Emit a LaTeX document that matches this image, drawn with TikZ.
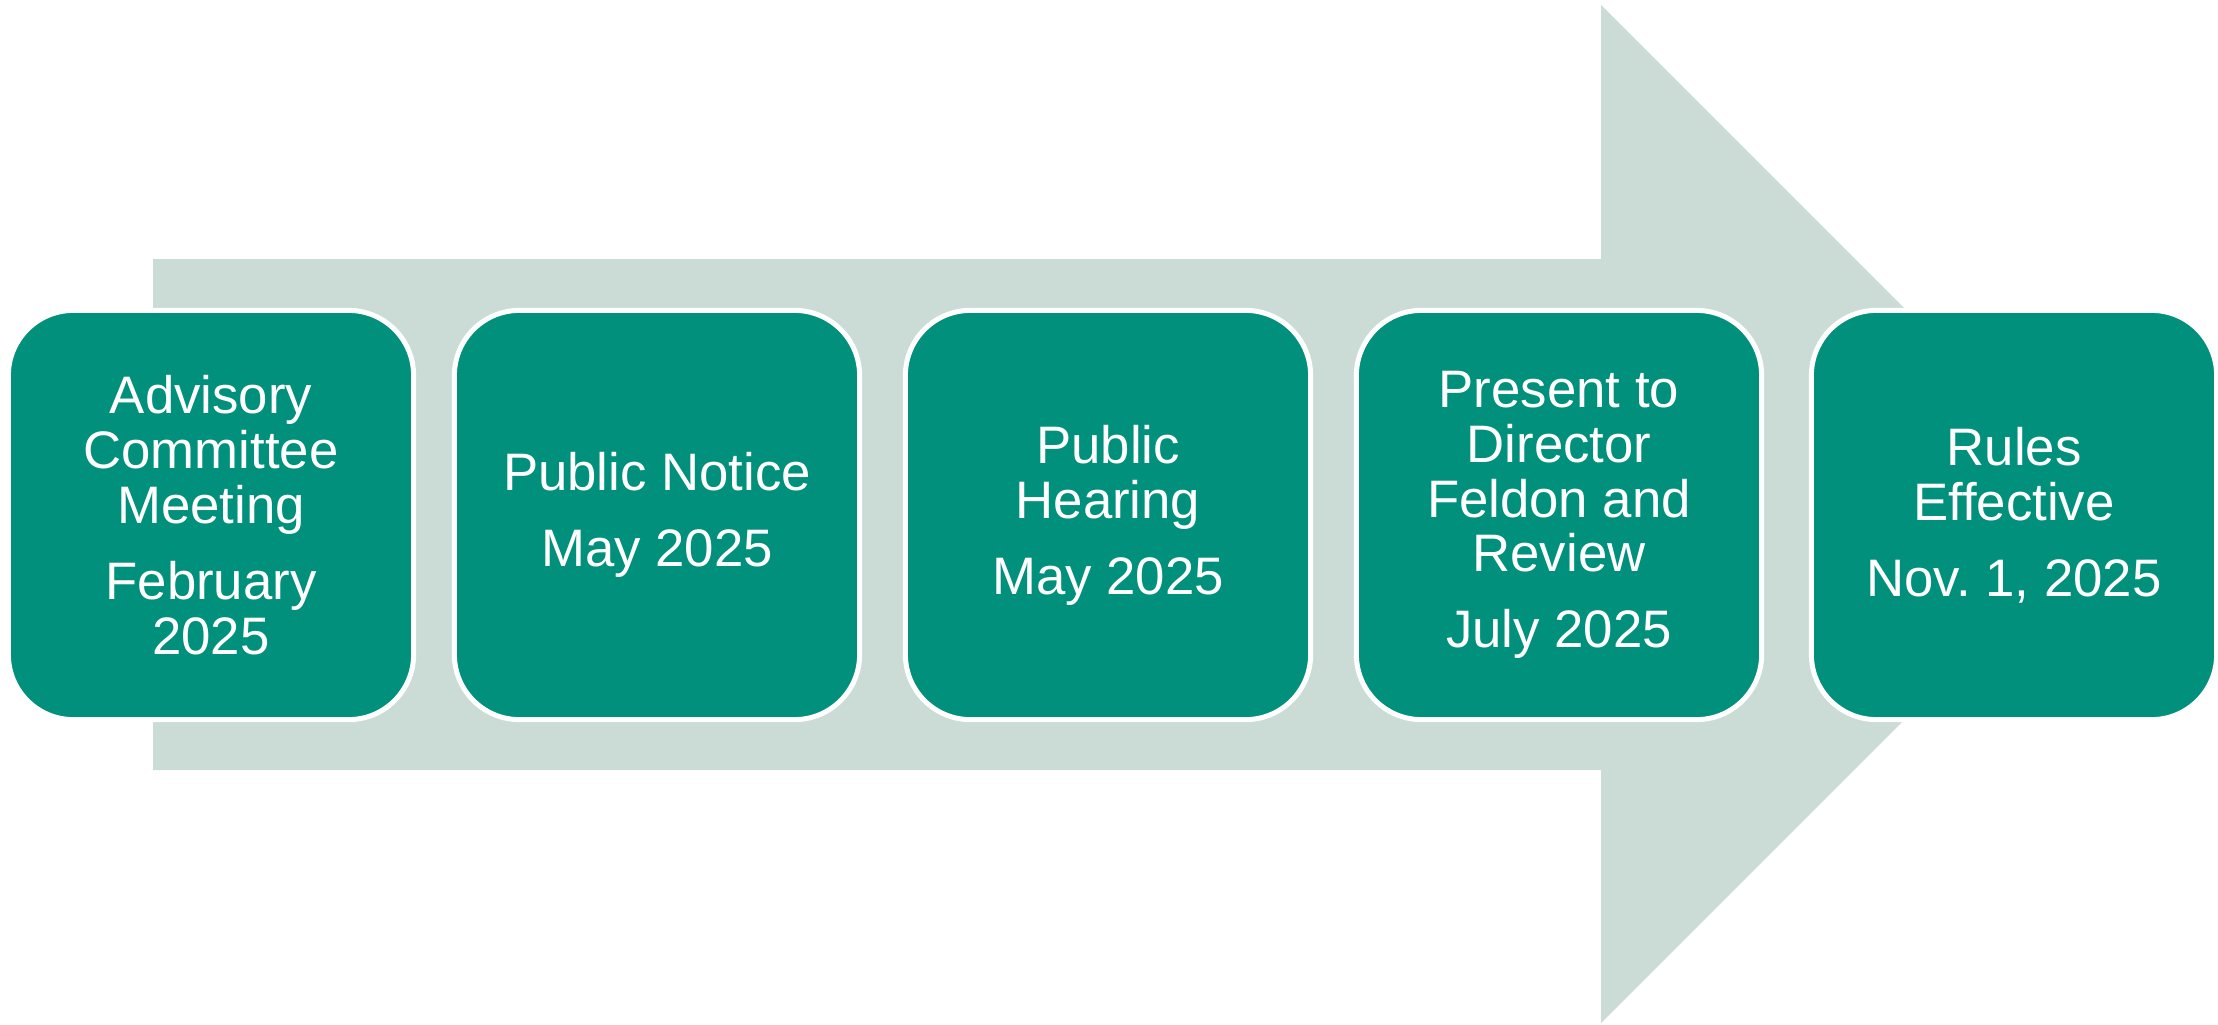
\documentclass[tikz,border=0pt]{standalone}
\usepackage{fontspec}
\setmainfont{Liberation Sans}
\usepackage{tikz}
\definecolor{stepgreen}{RGB}{0,144,124}
\definecolor{arrowgrey}{RGB}{203,220,215}
\usetikzlibrary{positioning}
\tikzset{%
  stage/.style={draw=white, line width=0.05cm, fill=stepgreen, rectangle,
    rounded corners=0.65cm, minimum width=4.05cm, minimum height=4.09cm,
    text=white, align=center, inner sep=0pt,
    font=\fontsize{15}{15.6}\selectfont},% timeline step box
  backarrow/.style={fill=arrowgrey}% big arrow behind the steps
}
\begin{document}
\begin{tikzpicture}[x=0.01cm, y=-0.01cm]
\useasboundingbox (0,0) rectangle (2218,1024);
\fill[backarrow] (153,259) -- (1601,259) -- (1601,5) -- (2110,514)
  -- (1601,1023) -- (1601,770) -- (153,770) -- cycle;

\node[stage] (advisory) at (211,515) {Advisory\\Committee\\Meeting\\[6pt]February\\2025};
\node[stage] (notice) at (657,515) {Public Notice\\[6pt]May 2025};
\node[stage] (hearing) at (1108,515) {Public\\Hearing\\[6pt]May 2025};
\node[stage] (director) at (1559,515) {Present to\\Director\\Feldon and\\Review\\[6pt]July 2025};
\node[stage] (effective) at (2014,515) {Rules\\Effective\\[6pt]Nov.\ 1, 2025};
\end{tikzpicture}
\end{document}
